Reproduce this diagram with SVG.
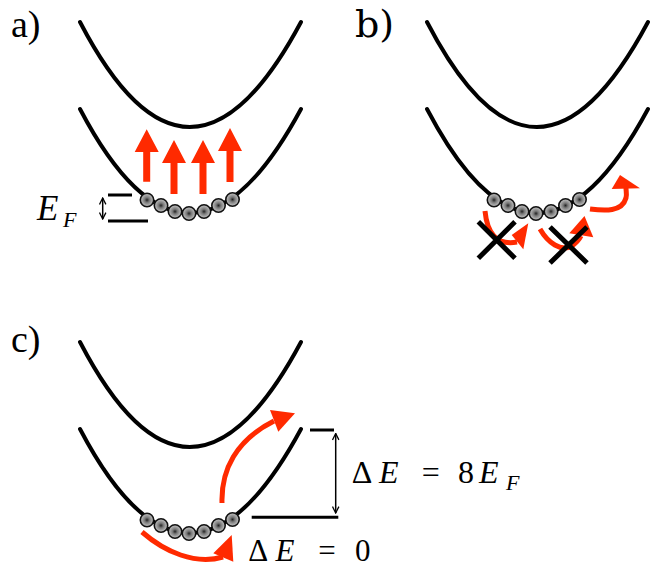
<svg xmlns="http://www.w3.org/2000/svg" width="654" height="569" viewBox="0 0 654 569">
<style>
.band{fill:none;stroke:#000;stroke-width:4;stroke-linecap:round}
.lvl{stroke:#000;stroke-width:3}
.red{fill:none;stroke:#ff2a00;stroke-width:5}
.redf{fill:#ff2a00}
.x{stroke:#000;stroke-width:5}
.e{fill:url(#eg);stroke:#111;stroke-width:1.6}
.dbl{stroke:#000;stroke-width:1.5;fill:none}
.t{font-family:"Liberation Serif",serif;fill:#000}
.lab{font-size:38px}
.it{font-style:italic}
</style>
<defs>
<radialGradient id="eg" cx="0.5" cy="0.5" r="0.5">
<stop offset="0" stop-color="#222"/>
<stop offset="0.35" stop-color="#777"/>
<stop offset="1" stop-color="#c8c8c8"/>
</radialGradient>
<marker id="chev" viewBox="0 0 10 10" refX="9" refY="5" markerWidth="8" markerHeight="8" markerUnits="userSpaceOnUse" orient="auto-start-reverse">
<path d="M1,1 L9,5 L1,9" fill="none" stroke="#000" stroke-width="1.6"/>
</marker>
<g id="electrons">
<circle class="e" cx="147" cy="200" r="6.7"/>
<circle class="e" cx="161" cy="205.5" r="6.7"/>
<circle class="e" cx="175" cy="211.5" r="6.7"/>
<circle class="e" cx="189" cy="213.5" r="6.7"/>
<circle class="e" cx="204" cy="211.5" r="6.7"/>
<circle class="e" cx="218.5" cy="205.5" r="6.7"/>
<circle class="e" cx="232.5" cy="199.5" r="6.7"/>
</g>
<g id="bands">
<path class="band" d="M80,22 Q189,232 301,22"/>
<path class="band" d="M80,109 Q189,317 301,109"/>
</g>
</defs>

<g id="panel-a">
<text class="t lab" x="11" y="37">a)</text>
<use href="#bands"/>
<g id="a-arrows">
<path class="redf" d="M143.2,181.7 V152 H134.7 L146.7,129.3 L158.7,152 H150.2 V181.7 Z"/>
<path class="redf" d="M170.5,194 V163 H162 L174,140 L186,163 H177.5 V194 Z"/>
<path class="redf" d="M199.5,194 V163 H191 L203,140 L215,163 H206.5 V194 Z"/>
<path class="redf" d="M226.5,182 V151 H218 L230,128 L242,151 H233.5 V182 Z"/>
</g>
<use href="#electrons"/>
<g id="a-ef">
<line class="lvl" x1="108" y1="195" x2="132" y2="195"/>
<line class="lvl" x1="108" y1="221" x2="148" y2="221"/>
<line class="dbl" x1="102.7" y1="198" x2="102.7" y2="219" marker-start="url(#chev)" marker-end="url(#chev)"/>
<text class="t it" x="37" y="220" font-size="35">E</text>
<text class="t it" x="63" y="226.5" font-size="22">F</text>
</g>
</g>

<g id="panel-b">
<text class="lab" x="355" y="37" font-family="DejaVu Serif" fill="#000">b)</text>
<use href="#bands" x="347"/>
<use href="#electrons" x="347"/>
<g id="b-arrows">
<path class="red" d="M485,211 C487,232 496,246 517,242"/>
<polygon class="redf" points="528.3,223.3 511.7,235 523.3,249.3"/>
<path class="red" d="M540,229 C548,243 561,252 572,246 C576,243 579,240 581,236"/>
<polygon class="redf" points="584.5,216 569.3,233.3 593.3,237.3"/>
<path class="red" d="M590,209 C605,211 622,212 626,198 C627,194 626,191 626,188"/>
<polygon class="redf" points="620,175 611.7,189 640,188.3"/>
</g>
<g id="b-x">
<path class="x" d="M478.3,221.7 L515,258.3 M478.3,258.3 L515,221.7"/>
<path class="x" d="M550,227 L587,263 M550,263 L587,227"/>
</g>
</g>

<g id="panel-c">
<text class="t lab" x="11" y="352">c)</text>
<use href="#bands" y="320"/>
<use href="#electrons" y="320"/>
<g id="c-arrows">
<path class="red" d="M222,503 C221,470 236,440 274,421"/>
<polygon class="redf" points="295,413.3 270,410 278.3,431.7"/>
<path class="red" d="M142,532 C165,552 195,565 223,557"/>
<polygon class="redf" points="231.7,535 213.3,553.3 233.3,561.7"/>
</g>
<g id="c-levels">
<line class="lvl" x1="310" y1="430" x2="334" y2="430"/>
<line class="lvl" x1="251.7" y1="517.3" x2="338.3" y2="517.3"/>
<line class="dbl" x1="335.7" y1="433.5" x2="335.7" y2="513" marker-start="url(#chev)" marker-end="url(#chev)"/>
</g>
<text class="t" font-size="32" y="483.3"><tspan x="351.7">Δ</tspan><tspan class="it" x="379">E</tspan><tspan x="421.7">=</tspan><tspan x="458">8</tspan><tspan class="it" x="479">E</tspan></text>
<text class="t it" font-size="22" x="506" y="490">F</text>
<text class="t" font-size="31" y="561"><tspan x="248.3">Δ</tspan><tspan class="it" x="275.6">E</tspan><tspan x="318.3">=</tspan><tspan x="355">0</tspan></text>
</g>
</svg>
